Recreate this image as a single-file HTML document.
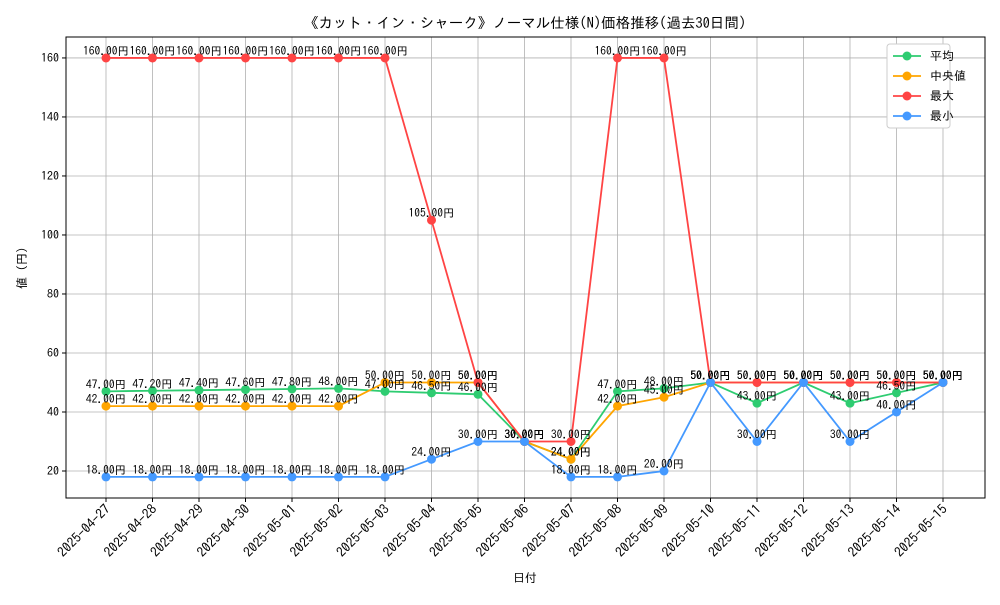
<!DOCTYPE html>
<html><head><meta charset="utf-8"><style>
body{margin:0;background:#fff;}
svg{font-family:"IPAGothic","Noto Sans CJK JP","Liberation Sans",sans-serif;}
</style></head><body>
<svg id="chart" width="1000" height="600" xmlns="http://www.w3.org/2000/svg"></svg>
<script>
const categories=["2025-04-27","2025-04-28","2025-04-29","2025-04-30","2025-05-01","2025-05-02","2025-05-03","2025-05-04","2025-05-05","2025-05-06","2025-05-07","2025-05-08","2025-05-09","2025-05-10","2025-05-11","2025-05-12","2025-05-13","2025-05-14","2025-05-15"];
const avgValues=[47.0,47.2,47.4,47.6,47.8,48.0,47.0,46.5,46.0,30,24,47.0,48.0,50,43,50,43,46.5,50];
const medianValues=[42,42,42,42,42,42,50,50,50,30,24,42,45,50,50,50,50,50,50];
const maxValues=[160,160,160,160,160,160,160,105,50,30,30,160,160,50,50,50,50,50,50];
const minValues=[18,18,18,18,18,18,18,24,30,30,18,18,20,50,30,50,30,40,50];
const yTicks=[20,40,60,80,100,120,140,160];
const seriesNames=["平均","中央値","最大","最小"];
const L=66,R=985,T=37,B=498;
const yMin=10.85,yMax=167.1;
const X=i=>106+i*(943-106)/(categories.length-1);
const Y=v=>B-(v-yMin)/(yMax-yMin)*(B-T);
const svg=document.getElementById('chart');
const NS="http://www.w3.org/2000/svg";
function mk(tag,attrs,parent){const e=document.createElementNS(NS,tag);for(const k in attrs)e.setAttribute(k,attrs[k]);(parent||svg).appendChild(e);return e;}
categories.forEach((c,i)=>{
  const g=mk('line',{x1:X(i),x2:X(i),y1:T,y2:B,stroke:'#b0b0b0','stroke-width':0.8});
  
  
  const tk=mk('line',{x1:X(i),x2:X(i),y1:B,y2:B+4,stroke:'#000'});
  
  
  const t=mk('text',{x:0,y:0,'font-size':13.5,'text-anchor':'end',transform:`translate(${X(i)+5},${B+12}) rotate(-45)`});
  t.textContent=c;
  
  
});
yTicks.forEach(v=>{
  const g=mk('line',{x1:L,x2:R,y1:Y(v),y2:Y(v),stroke:'#b0b0b0','stroke-width':0.8});
  
  
  const tk=mk('line',{x1:L-4,x2:L,y1:Y(v),y2:Y(v),stroke:'#000'});
  
  
  const t=mk('text',{x:L-7,y:Y(v)+4,'font-size':12,'text-anchor':'end'});
  t.textContent=v;
  
  
});
const frame=mk('rect',{x:L,y:T,width:R-L,height:B-T,fill:'none',stroke:'#000','stroke-width':1});


const series=[[avgValues,'#2ecc71'],[medianValues,'#ffa500'],[maxValues,'#ff4444'],[minValues,'#4499ff']];
series.forEach(([vals,col],si)=>{
  const p=mk('polyline',{points:vals.map((v,i)=>X(i)+','+Y(v)).join(' '),fill:'none',stroke:col,'stroke-width':1.8});
  
  
  vals.forEach((v,i)=>{
    const c=mk('circle',{cx:X(i),cy:Y(v),r:4.5,fill:col});
    
    
  });
});
series.forEach(([vals,col])=>{
  vals.forEach((v,i)=>{
    const t=mk('text',{x:X(i),y:Y(v)-3,'font-size':11.5,'text-anchor':'middle'});
    t.textContent=v.toFixed(2)+'円';
    
    
  });
});
const title=mk('text',{x:525,y:28,'font-size':14.5,'text-anchor':'middle'});
title.textContent='《カット・イン・シャーク》ノーマル仕様(N)価格推移(過去30日間)';


const xt=mk('text',{x:525,y:582,'font-size':12,'text-anchor':'middle'});
xt.textContent='日付';


const yt=mk('text',{x:0,y:0,'font-size':12,'text-anchor':'middle',transform:'translate(26,268) rotate(-90)'});
yt.textContent='値 (円)';


const lg=mk('rect',{x:887,y:44,width:63,height:84,fill:'#fff',stroke:'#ccc',rx:3});


series.forEach(([v,col],si)=>{
  const y=56+si*20;
  const l=mk('line',{x1:893,x2:921,y1:y,y2:y,stroke:col,'stroke-width':1.8});
  
  
  const c=mk('circle',{cx:907,cy:y,r:4.5,fill:col});
  
  
  const t=mk('text',{x:930,y:y+4,'font-size':12});
  t.textContent=seriesNames[si];
  
  
});
</script>
</body></html>
